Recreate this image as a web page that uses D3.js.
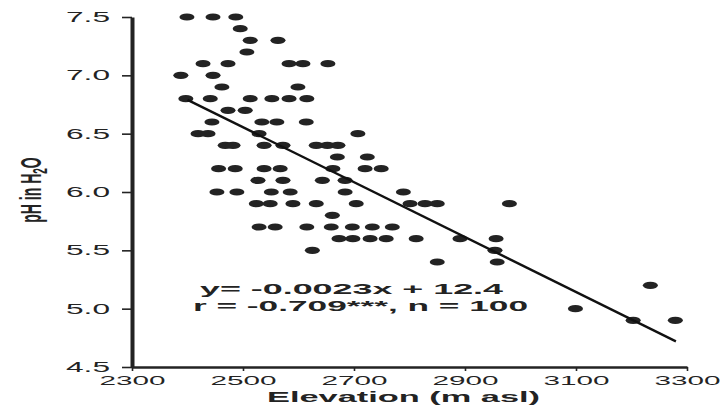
<!DOCTYPE html>
<html>
<head>
<meta charset="utf-8">
<script src="https://cdn.jsdelivr.net/npm/d3@7"></script>
<style>
  body { margin: 0; background: #fff; }
  svg { display: block; font-family: "Liberation Sans", Arial, sans-serif; }
</style>
</head>
<body>
<svg id="chart" width="724" height="410"></svg>
<script>
// soil pH vs elevation (values snap to 0.1 pH)
const elevation = [
  2399, 2446, 2487,
  2495,
  2513, 2563,
  2507,
  2428, 2473, 2583, 2608, 2653,
  2388, 2446,
  2462, 2599,
  2397, 2441, 2513, 2552, 2583, 2615,
  2473, 2504,
  2444, 2534, 2561, 2614,
  2419, 2437, 2529, 2707,
  2468, 2482, 2538, 2572, 2632, 2652, 2671,
  2670, 2724,
  2456, 2486, 2538, 2567, 2662, 2720, 2749,
  2527, 2572, 2643, 2684,
  2453, 2489, 2551, 2585, 2684, 2789,
  2524, 2549, 2590, 2632, 2704, 2801, 2828, 2850, 2980,
  2661,
  2529, 2558, 2615, 2659, 2697, 2733, 2769,
  2673, 2698, 2729, 2758, 2812, 2891, 2956,
  2625, 2954,
  2850, 2958,
  3234,
  3099,
  3203, 3279
];
const ph = [
  7.5, 7.5, 7.5,
  7.4,
  7.3, 7.3,
  7.2,
  7.1, 7.1, 7.1, 7.1, 7.1,
  7.0, 7.0,
  6.9, 6.9,
  6.8, 6.8, 6.8, 6.8, 6.8, 6.8,
  6.7, 6.7,
  6.6, 6.6, 6.6, 6.6,
  6.5, 6.5, 6.5, 6.5,
  6.4, 6.4, 6.4, 6.4, 6.4, 6.4, 6.4,
  6.3, 6.3,
  6.2, 6.2, 6.2, 6.2, 6.2, 6.2, 6.2,
  6.1, 6.1, 6.1, 6.1,
  6.0, 6.0, 6.0, 6.0, 6.0, 6.0,
  5.9, 5.9, 5.9, 5.9, 5.9, 5.9, 5.9, 5.9, 5.9,
  5.8,
  5.7, 5.7, 5.7, 5.7, 5.7, 5.7, 5.7,
  5.6, 5.6, 5.6, 5.6, 5.6, 5.6, 5.6,
  5.5, 5.5,
  5.4, 5.4,
  5.2,
  5.0,
  4.9, 4.9
];

const xTicks = [2300, 2500, 2700, 2900, 3100, 3300];
const yTicks = [4.5, 5.0, 5.5, 6.0, 6.5, 7.0, 7.5];

// regression line as drawn (end points)
const fitX = [2400, 3280];
const fitY = [6.79, 4.72];

const statLines = ["y= -0.0023x + 12.4", "r = -0.709***, n = 100"];

const ink = "#232323";

const svg = d3.select("#chart");

const x = d3.scaleLinear().domain([2300, 3300]).range([132, 687]);
const y = d3.scaleLinear().domain([4.5, 7.5]).range([367, 17]);

// the source figure is stretched sideways, so text is widened to fit
const widen = (sel, w) => sel.attr("textLength", w).attr("lengthAdjust", "spacingAndGlyphs");

// y axis
const gy = svg.append("g")
    .attr("transform", "translate(132,0)")
    .call(d3.axisLeft(y).tickValues(yTicks).tickSize(10).tickSizeOuter(0)
        .tickPadding(12).tickFormat(d3.format(".1f")));
gy.select(".domain").attr("stroke", ink).attr("stroke-width", 4);
gy.selectAll(".tick line").attr("stroke", ink).attr("stroke-width", 1.6);
gy.selectAll(".tick text")
    .attr("fill", ink).attr("font-size", 14)
    .call(widen, 44);

// x axis
const gx = svg.append("g")
    .attr("transform", "translate(0,367)")
    .call(d3.axisBottom(x).tickValues(xTicks).tickSize(4).tickSizeOuter(0)
        .tickPadding(5).tickFormat(d3.format("d")));
gx.select(".domain").attr("stroke", ink).attr("stroke-width", 2.4);
gx.selectAll(".tick line").attr("stroke", ink).attr("stroke-width", 1.6);
gx.selectAll(".tick text")
    .attr("fill", ink).attr("font-size", 13)
    .call(widen, 66);

// points
svg.append("g").selectAll("ellipse")
    .data(d3.range(elevation.length))
    .join("ellipse")
    .attr("cx", i => x(elevation[i]))
    .attr("cy", i => y(ph[i]))
    .attr("rx", 7.5)
    .attr("ry", 3.6)
    .attr("fill", ink);

// regression line
svg.append("line")
    .attr("x1", x(fitX[0])).attr("y1", y(fitY[0]))
    .attr("x2", x(fitX[1])).attr("y2", y(fitY[1]))
    .attr("stroke", "#111")
    .attr("stroke-width", 2.4);

// equation text
svg.append("text")
    .attr("x", 200).attr("y", 294)
    .attr("font-size", 14.5).attr("font-weight", "bold").attr("fill", ink)
    .text(statLines[0])
    .call(widen, 303);
svg.append("text")
    .attr("x", 193).attr("y", 311)
    .attr("font-size", 14.5).attr("font-weight", "bold").attr("fill", ink)
    .text(statLines[1])
    .call(widen, 335);

// axis titles
svg.append("text")
    .attr("x", 267).attr("y", 402)
    .attr("font-size", 15).attr("font-weight", "bold").attr("fill", ink)
    .text("Elevation (m asl)")
    .call(widen, 273);

const ylab = svg.append("text")
    .attr("transform", "translate(41,190) scale(2.1,1) rotate(-90)")
    .attr("text-anchor", "middle")
    .attr("font-size", 14).attr("font-weight", "bold").attr("fill", ink);
ylab.append("tspan").text("pH in H");
ylab.append("tspan").attr("font-size", 10).attr("dy", 3).text("2");
ylab.append("tspan").attr("dy", -3).text("O");
</script>
</body>
</html>
